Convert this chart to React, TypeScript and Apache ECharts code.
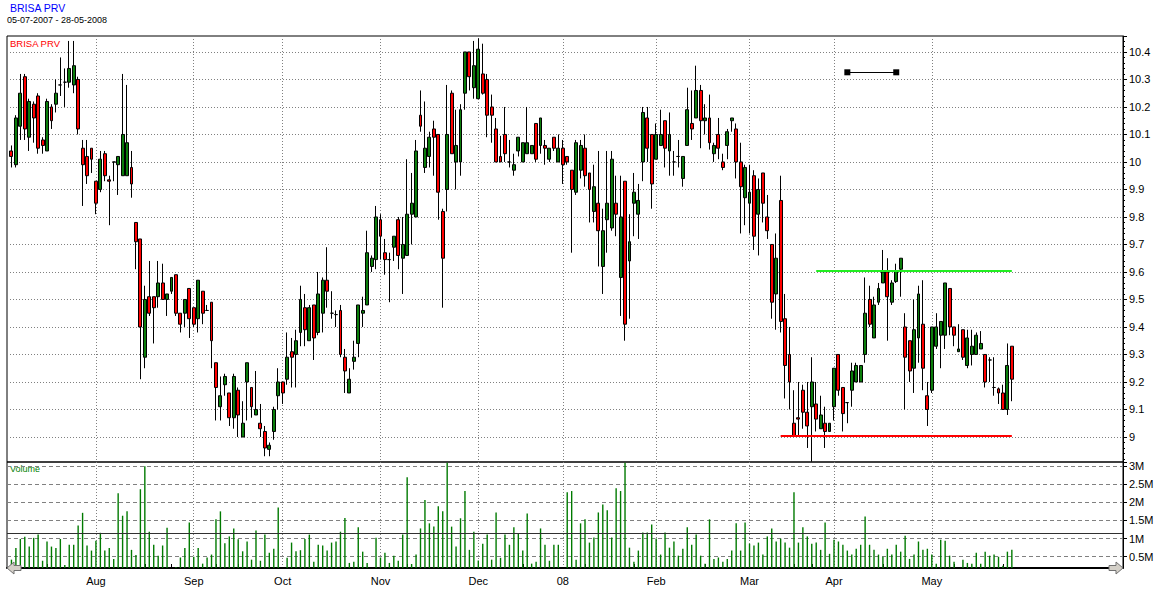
import React, { useEffect, useRef } from "react";
import * as echarts from "echarts";

// ---- data (one entry per trading day, 05-07-2007 .. 28-05-2008) ----
const MONTH_STARTS = [19, 41, 61, 83, 105, 124, 145, 166, 185, 207];
const MONTH_LABELS = ["Aug", "Sep", "Oct", "Nov", "Dec", "08", "Feb", "Mar", "Apr", "May"];

const OPEN = [
  // Jul
  10.04, 9.99, 10.13, 10.31, 10.09, 10.21, 10.24, 10.08, 10.04, 10.2, 10.21, 10.28, 10.29, 10.29, 10.28, 10.3, 10.05, 10.02, 10.05,
  // Aug
  9.93, 9.9, 10.03, 9.935, 10.0, 9.99, 9.95, 9.95, 9.98, 9.78, 9.72, 9.29, 9.51, 9.51, 9.51, 9.56, 9.5, 9.53, 9.59, 9.45, 9.45, 9.54,
  // Sep
  9.47, 9.43, 9.53, 9.46, 9.49, 9.27, 9.11, 9.19, 9.16, 9.07, 9.17, 9.0, 9.2, 9.18, 9.08, 9.05, 9.02, 8.955, 9.02, 9.15,
  // Oct
  9.2, 9.21, 9.31, 9.3, 9.38, 9.47, 9.35, 9.48, 9.38, 9.45, 9.57, 9.45, 9.445, 9.46, 9.29, 9.16, 9.275, 9.34, 9.45, 9.48, 9.62, 9.645,
  // Nov
  9.79, 9.67, 9.645, 9.69, 9.79, 9.65, 9.66, 9.81, 9.8, 10.17, 9.98, 10.02, 10.12, 10.1, 9.82, 9.9, 10.25, 10.0, 10.0, 10.25, 10.4, 10.27,
  // Dec
  10.23, 10.32, 10.3, 10.2, 10.12, 10.02, 10.1, 10.0, 9.97, 10.04, 10.0, 10.03, 10.03, 10.14, 10.06, 10.06, 10.01, 10.09, 10.0,
  // Jan
  10.05, 10.02, 9.97, 9.89, 9.97, 10.05, 9.96, 9.82, 9.85, 9.62, 9.79, 9.76, 9.85, 9.58, 9.93, 9.64, 9.85, 9.81, 10.0, 10.16, 10.1,
  // Feb
  10.01, 10.06, 10.15, 10.04, 10.0, 10.02, 9.94, 10.06, 10.14, 10.16, 10.26, 10.15, 10.16, 10.03, 10.1, 10.0, 10.06, 10.15, 10.12, 10.0, 9.87,
  // Mar
  9.85, 9.95, 9.81, 9.96, 9.8, 9.7, 9.52, 9.86, 9.43, 9.3, 9.05, 9.07, 9.17, 9.09, 9.11, 9.12, 9.03, 9.05, 9.02,
  // Apr
  9.11, 9.3, 9.18, 9.125, 9.17, 9.2, 9.2, 9.3, 9.5, 9.36, 9.49, 9.56, 9.6, 9.49, 9.565, 9.61, 9.4, 9.35, 9.25, 9.36, 9.41, 9.15,
  // May
  9.17, 9.33, 9.37, 9.37, 9.54, 9.4, 9.31, 9.39, 9.26, 9.3, 9.3, 9.32, 9.3, 9.28, 9.18, 9.175, 9.16, 9.1, 9.33,
];

const CLOSE = [
  10.02, 10.16, 10.25, 10.12, 10.22, 10.16, 10.05, 10.06, 10.22, 10.15, 10.25, 10.28, 10.29, 10.34, 10.35, 10.12, 9.99, 9.95, 10.01,
  9.85, 10.01, 9.95, 9.93, 10.0, 10.02, 10.1, 10.07, 9.92, 9.71, 9.4, 9.5, 9.45, 9.47, 9.56, 9.5, 9.52, 9.58, 9.45, 9.41, 9.5, 9.43,
  9.41, 9.57, 9.45, 9.46, 9.35, 9.18, 9.15, 9.22, 9.07, 9.22, 9.08, 9.05, 9.27, 9.11, 9.1, 9.03, 8.96, 8.97, 9.1, 9.2,
  9.16, 9.29, 9.29, 9.35, 9.5, 9.39, 9.47, 9.36, 9.52, 9.57, 9.53, 9.45, 9.445, 9.3, 9.24, 9.21, 9.29, 9.48, 9.46, 9.67, 9.65, 9.8,
  9.73, 9.645, 9.645, 9.73, 9.66, 9.7, 9.81, 9.85, 10.04, 10.13, 10.05, 10.09, 10.09, 9.89, 9.65, 10.1, 10.03, 10.06, 10.19, 10.4, 10.31, 10.35,
  10.41, 10.25, 10.17, 10.17, 10.0, 10.0, 10.03, 10.0, 9.99, 10.09, 10.07, 10.07, 10.06, 10.01, 10.16, 10.05, 10.05, 10.05, 10.05,
  9.99, 10.0, 9.9, 10.07, 10.06, 9.95, 9.9, 9.91, 9.75, 9.75, 9.85, 10.01, 9.81, 9.8, 9.41, 9.71, 9.89, 9.86, 10.18, 10.05, 9.92,
  10.1, 10.1, 10.05, 10.1, 10.0, 10.02, 10.02, 10.19, 10.12, 10.26, 10.15, 10.16, 10.07, 10.06, 10.05, 9.98, 10.11, 10.16, 10.0, 9.91, 9.98,
  9.89, 9.73, 9.9, 9.85, 9.75, 9.49, 9.65, 9.42, 9.26, 9.2, 9.005, 9.065, 9.09, 9.04, 9.2, 9.065, 9.08, 9.02, 9.05,
  9.25, 9.17, 9.085, 9.125, 9.24, 9.26, 9.26, 9.45, 9.41, 9.48, 9.54, 9.6, 9.51, 9.56, 9.605, 9.65, 9.29, 9.24, 9.39, 9.52, 9.25, 9.1,
  9.4, 9.4, 9.42, 9.56, 9.4, 9.37, 9.32, 9.29, 9.36, 9.33, 9.37, 9.34, 9.2, 9.28, 9.18, 9.16, 9.1, 9.26, 9.21,
];

const LOW = [
  9.98, 9.98, 10.08, 10.08, 10.04, 10.07, 10.03, 10.03, 10.04, 10.12, 10.18, 10.24, 10.2, 10.27, 10.25, 10.1, 9.84, 9.92, 9.96,
  9.81, 9.89, 9.93, 9.77, 9.93, 9.88, 9.95, 9.95, 9.87, 9.61, 9.21, 9.25, 9.44, 9.34, 9.47, 9.5, 9.44, 9.52, 9.44, 9.38, 9.4, 9.36,
  9.4, 9.38, 9.41, 9.46, 9.25, 9.06, 9.06, 9.15, 9.04, 9.03, 9.0, 9.0, 9.06, 9.07, 9.08, 9.0, 8.93, 8.93, 8.99, 9.1,
  9.12, 9.19, 9.18, 9.18, 9.33, 9.33, 9.35, 9.28, 9.37, 9.38, 9.47, 9.43, 9.4, 9.29, 9.16, 9.16, 9.245, 9.29, 9.4, 9.48, 9.6, 9.61,
  9.645, 9.59, 9.49, 9.64, 9.61, 9.52, 9.66, 9.7, 9.8, 10.11, 9.96, 9.98, 9.95, 9.79, 9.47, 9.82, 10.03, 9.9, 9.95, 10.19, 10.26, 10.23,
  10.23, 10.245, 10.09, 10.07, 10.0, 10.0, 10.0, 9.98, 9.95, 10.02, 10.0, 10.03, 10.03, 10.0, 10.03, 9.99, 10.0, 10.04, 10.0,
  9.92, 9.99, 9.67, 9.88, 9.94, 9.91, 9.78, 9.78, 9.62, 9.52, 9.67, 9.75, 9.73, 9.44, 9.35, 9.43, 9.73, 9.72, 9.93, 10.0, 9.83,
  10.01, 10.06, 9.98, 9.95, 9.95, 9.98, 9.91, 10.06, 10.08, 10.16, 10.05, 10.1, 10.045, 10.0, 10.01, 9.97, 10.01, 10.11, 9.94, 9.74, 9.77,
  9.74, 9.68, 9.66, 9.78, 9.72, 9.43, 9.39, 9.38, 9.14, 9.1, 9.005, 9.0, 9.03, 8.96, 8.91, 9.02, 9.03, 8.96, 9.02,
  9.06, 9.15, 9.02, 9.05, 9.11, 9.2, 9.2, 9.27, 9.4, 9.36, 9.48, 9.56, 9.35, 9.48, 9.56, 9.51, 9.1, 9.2, 9.16, 9.27, 9.17, 9.04,
  9.16, 9.32, 9.25, 9.32, 9.37, 9.33, 9.31, 9.28, 9.25, 9.26, 9.3, 9.32, 9.18, 9.2, 9.15, 9.12, 9.1, 9.08, 9.13,
];

const HIGH = [
  10.06, 10.17, 10.32, 10.32, 10.23, 10.22, 10.25, 10.09, 10.23, 10.21, 10.3, 10.38, 10.34, 10.44, 10.44, 10.31, 10.08, 10.08, 10.05,
  9.93, 10.04, 10.04, 9.95, 10.0, 10.02, 10.32, 10.28, 10.04, 9.78, 9.72, 9.55, 9.64, 9.51, 9.64, 9.63, 9.52, 9.58, 9.59, 9.45, 9.5, 9.54,
  9.47, 9.57, 9.53, 9.48, 9.49, 9.27, 9.22, 9.23, 9.16, 9.23, 9.18, 9.13, 9.27, 9.18, 9.24, 9.12, 9.04, 8.98, 9.11, 9.25,
  9.2, 9.38, 9.36, 9.39, 9.55, 9.52, 9.48, 9.48, 9.6, 9.58, 9.69, 9.53, 9.46, 9.48, 9.32, 9.25, 9.35, 9.48, 9.51, 9.75, 9.66, 9.84,
  9.81, 9.72, 9.67, 9.73, 9.8, 9.8, 10.01, 9.96, 10.08, 10.26, 10.22, 10.11, 10.15, 10.1, 9.83, 10.28, 10.26, 10.19, 10.21, 10.4, 10.4, 10.44,
  10.45, 10.43, 10.32, 10.245, 10.16, 10.095, 10.2, 10.08, 10.03, 10.09, 10.07, 10.2, 10.06, 10.14, 10.16, 10.08, 10.05, 10.09, 10.1,
  10.08, 10.02, 9.97, 10.08, 10.08, 10.1, 9.96, 9.99, 10.04, 9.83, 10.04, 10.04, 9.95, 9.95, 9.93, 9.81, 9.96, 9.92, 10.2, 10.2, 10.1,
  10.14, 10.19, 10.15, 10.18, 10.04, 10.08, 10.02, 10.27, 10.26, 10.35, 10.28, 10.21, 10.245, 10.07, 10.16, 10.03, 10.12, 10.16, 10.14, 10.07, 9.99,
  9.99, 9.97, 9.94, 9.96, 9.88, 9.7, 9.74, 9.95, 9.52, 9.4, 9.17, 9.2, 9.19, 9.2, 9.29, 9.2, 9.15, 9.11, 9.05,
  9.25, 9.3, 9.18, 9.125, 9.27, 9.27, 9.26, 9.58, 9.55, 9.51, 9.56, 9.68, 9.65, 9.57, 9.63, 9.65, 9.45, 9.35, 9.5, 9.55, 9.57, 9.2,
  9.4, 9.45, 9.42, 9.56, 9.54, 9.4, 9.41, 9.39, 9.39, 9.39, 9.38, 9.385, 9.3, 9.29, 9.29, 9.18, 9.19, 9.34, 9.33,
];

// volume in millions
const VOLUME_M = [
  0.42, 0.74, 0.99, 1.05, 0.78, 1.02, 1.11, 0.39, 0.92, 0.78, 0.74, 0.99, 0.27, 0.83, 0.83, 1.36, 1.71, 0.81, 0.67,
  0.94, 1.16, 0.67, 0.74, 0.44, 2.25, 1.63, 1.75, 0.69, 0.55, 2.36, 2.99, 1.19, 0.83, 0.53, 0.81, 1.3, 0.17, 0.22, 0.48, 0.74, 1.44,
  0.5, 0.74, 0.31, 0.48, 0.56, 1.53, 1.75, 0.87, 1.06, 1.28, 0.98, 0.65, 0.92, 0.42, 1.22, 0.39, 1.11, 0.61, 0.72, 1.86,
  0.17, 0.47, 0.89, 0.65, 0.68, 0.99, 1.11, 0.36, 0.83, 0.81, 0.67, 0.89, 0.92, 1.19, 1.57, 0.33, 0.36, 1.31, 0.64, 0.33, 0.17, 1.02,
  0.48, 0.61, 0.33, 0.53, 0.39, 1.11, 2.69, 0.3, 0.56, 1.28, 2.06, 1.42, 1.33, 1.89, 1.75, 3.09, 1.33, 0.78, 1.56, 2.31, 0.69, 1.19,
  0.4, 0.86, 1.11, 0.42, 1.72, 0.47, 1.11, 0.83, 1.31, 1.14, 0.67, 1.69, 0.31, 0.36, 1.28, 0.83, 0.39, 0.83, 0.83,
  0.17, 2.28, 2.31, 0.42, 1.42, 1.53, 0.89, 1.03, 1.72, 1.94, 1.78, 1.03, 2.39, 2.31, 3.09, 0.75, 0.36, 0.67, 1.17, 1.17, 1.39,
  1.0, 0.56, 1.17, 0.75, 0.92, 0.53, 0.72, 1.31, 0.83, 1.11, 0.53, 0.31, 1.53, 0.44, 0.48, 0.36, 0.44, 0.67, 1.42, 0.67, 1.44,
  0.86, 0.81, 0.89, 0.56, 1.06, 1.28, 0.92, 1.0, 0.89, 0.75, 2.28, 0.89, 1.31, 1.06, 0.86, 0.89, 0.69, 1.44, 0.58,
  0.97, 0.92, 0.83, 0.67, 0.56, 0.72, 0.83, 1.61, 0.83, 0.69, 0.56, 0.5, 0.72, 0.56, 0.83, 0.64, 1.08, 0.44, 0.56, 0.92, 0.69, 0.72,
  0.56, 0.31, 0.97, 0.94, 0.53, 0.36, 0.17, 0.42, 0.33, 0.31, 0.61, 0.31, 0.64, 0.53, 0.56, 0.5, 0.25, 0.64, 0.69,
];

const AVG_VOLUME_M = 1.14;
const RESISTANCE_LEVEL = 9.606;
const RESISTANCE_DAYS = [181, 225];
const SUPPORT_LEVEL = 9.005;
const SUPPORT_DAYS = [173, 225];
const MARKER_LEVEL = 10.326;
const MARKER_DAYS = [188, 199];

const FONT = "'Liberation Sans', Arial, Helvetica, sans-serif";

export default function App() {
  const ref = useRef<HTMLDivElement>(null);

  useEffect(() => {
    if (!ref.current) return;
    const chart = echarts.init(ref.current, undefined, { renderer: "svg" });

    const SLOTS = 252; // one leading empty slot + days + empty space on the right
    const cats = Array.from({ length: SLOTS }, (_, k) => String(k));
    const monthAt = new Map<number, string>(MONTH_STARTS.map((m, j) => [m + 1, MONTH_LABELS[j]]));
    const isMonth = (idx: number) => monthAt.has(idx);

    // quarter-month minor ticks on the time axis
    const edges = [-3, ...MONTH_STARTS, 228];
    const tickSet = new Set<number>();
    for (let j = 0; j < edges.length - 1; j++) {
      const a = edges[j];
      const b = edges[j + 1];
      [0.25, 0.5, 0.75].forEach((q) => {
        const t = Math.round(a + (b - a) * q);
        if (t >= 5) tickSet.add(t + 1);
      });
    }

    const candleData = OPEN.map((o, i) => [i + 1, o, CLOSE[i], LOW[i], HIGH[i]]);
    const volData = VOLUME_M.map((v, i) => [i + 1, v]);

    const gridLine = { color: "#808080", width: 1, type: [1, 2] as number[] };

    const option: any = {
      animation: false,
      backgroundColor: "#ffffff",
      textStyle: { fontFamily: FONT },
      grid: [
        { left: 7, right: 47, top: 36, height: 426, show: true, borderColor: "#000", borderWidth: 1, backgroundColor: "transparent" },
        { left: 7, right: 47, top: 462, height: 106, show: true, borderColor: "#000", borderWidth: 1, backgroundColor: "transparent" },
      ],
      xAxis: [
        {
          type: "category",
          gridIndex: 0,
          data: cats,
          boundaryGap: false,
          axisLine: { show: false },
          axisTick: { show: false },
          axisLabel: { show: false },
          splitLine: { show: true, interval: (i: number) => isMonth(i), lineStyle: gridLine },
        },
        {
          type: "category",
          gridIndex: 1,
          data: cats,
          boundaryGap: false,
          axisLine: { show: true, onZero: false, lineStyle: { color: "#000", width: 2 } },
          axisTick: {
            show: true,
            inside: true,
            length: 4,
            interval: (i: number) => tickSet.has(i),
            lineStyle: { color: "#000", width: 1 },
          },
          axisLabel: {
            show: true,
            interval: (i: number) => isMonth(i),
            formatter: (_v: string, i: number) => monthAt.get(i) ?? "",
            color: "#000",
            fontSize: 11,
            fontFamily: FONT,
            margin: 7,
          },
          splitLine: { show: true, interval: (i: number) => isMonth(i), lineStyle: gridLine },
        },
      ],
      yAxis: [
        {
          type: "value",
          gridIndex: 0,
          position: "right",
          min: 8.909,
          max: 10.458,
          splitNumber: 15,
          minInterval: 0.1,
          maxInterval: 0.1,
          axisLine: { show: true, lineStyle: { color: "#000", width: 1 } },
          axisTick: { show: true, length: 4, lineStyle: { color: "#000" } },
          minorTick: { show: true, splitNumber: 5, length: 2, lineStyle: { color: "#000" } },
          axisLabel: { color: "#000", fontSize: 11, fontFamily: FONT, margin: 6, showMinLabel: false, showMaxLabel: false },
          splitLine: { show: true, showMinLine: false, showMaxLine: false, lineStyle: gridLine },
        },
        {
          type: "value",
          gridIndex: 1,
          position: "right",
          min: 0.19,
          max: 3.11,
          splitNumber: 6,
          minInterval: 0.5,
          maxInterval: 0.5,
          axisLine: { show: true, lineStyle: { color: "#000", width: 1 } },
          axisTick: { show: true, length: 4, lineStyle: { color: "#000" } },
          axisLabel: {
            color: "#000",
            fontSize: 11,
            fontFamily: FONT,
            margin: 6,
            showMinLabel: false,
            showMaxLabel: false,
            formatter: (v: number) => `${v}M`,
          },
          splitLine: {
            show: true,
            showMinLine: false,
            showMaxLine: false,
            lineStyle: { color: "#808080", width: 1, type: [4, 3] },
          },
        },
      ],
      series: [
        {
          name: "BRISA PRV",
          type: "candlestick",
          xAxisIndex: 0,
          yAxisIndex: 0,
          data: candleData,
          encode: { x: 0, y: [1, 2, 3, 4] },
          barWidth: 3.4,
          itemStyle: {
            color: "#0b7d0b",
            color0: "#ff0000",
            borderColor: "#000",
            borderColor0: "#000",
            borderColorDoji: "#000",
            borderWidth: 1,
          },
          markLine: {
            silent: true,
            animation: false,
            label: { show: false },
            data: [
              [
                { coord: [RESISTANCE_DAYS[0] + 1, RESISTANCE_LEVEL], symbol: "none", lineStyle: { color: "#22ee22", width: 2, type: "solid" } },
                { coord: [RESISTANCE_DAYS[1] + 1, RESISTANCE_LEVEL], symbol: "none" },
              ],
              [
                { coord: [SUPPORT_DAYS[0] + 1, SUPPORT_LEVEL], symbol: "none", lineStyle: { color: "#ff0000", width: 2, type: "solid" } },
                { coord: [SUPPORT_DAYS[1] + 1, SUPPORT_LEVEL], symbol: "none" },
              ],
              [
                { coord: [MARKER_DAYS[0] + 1, MARKER_LEVEL], symbol: "rect", symbolSize: 6, lineStyle: { color: "#000", width: 1, type: "solid" }, itemStyle: { color: "#000" } },
                { coord: [MARKER_DAYS[1] + 1, MARKER_LEVEL], symbol: "rect", symbolSize: 6, itemStyle: { color: "#000" } },
              ],
            ],
          },
        },
        {
          name: "Volume",
          type: "bar",
          xAxisIndex: 1,
          yAxisIndex: 1,
          data: volData,
          encode: { x: 0, y: 1 },
          barWidth: 1.4,
          itemStyle: { color: "#007a00" },
          markLine: {
            silent: true,
            symbol: "none",
            label: { show: false },
            lineStyle: { color: "#303030", width: 1, type: "solid" },
            data: [{ yAxis: AVG_VOLUME_M }],
          },
        },
      ],
      graphic: [
        { type: "text", left: 10, top: 2, style: { text: "BRISA PRV", fill: "#0000ff", font: `10.5px ${FONT}` } },
        { type: "text", left: 7, top: 15, style: { text: "05-07-2007 - 28-05-2008", fill: "#000", font: `9px ${FONT}` } },
        { type: "text", left: 10, top: 38, style: { text: "BRISA PRV", fill: "#ff0000", font: `9.5px ${FONT}` } },
        { type: "text", left: 10, top: 464, style: { text: "Volume", fill: "#008000", font: `9px ${FONT}` } },
        {
          type: "polygon",
          z: 100,
          shape: { points: [[7, 568], [14, 562], [14, 565.5], [21, 565.5], [21, 570.5], [14, 570.5], [14, 574]] },
          style: { fill: "#d4d0c8", stroke: "#707070", lineWidth: 1 },
        },
        {
          type: "polygon",
          z: 100,
          shape: { points: [[1123, 568], [1116, 562], [1116, 565.5], [1109, 565.5], [1109, 570.5], [1116, 570.5], [1116, 574]] },
          style: { fill: "#d4d0c8", stroke: "#707070", lineWidth: 1 },
        },
      ],
    };

    chart.setOption(option);
    return () => chart.dispose();
  }, []);

  return (
    <div
      ref={ref}
      style={{ position: "fixed", left: 0, top: 0, width: 1170, height: 595, background: "#fff" }}
    />
  );
}
